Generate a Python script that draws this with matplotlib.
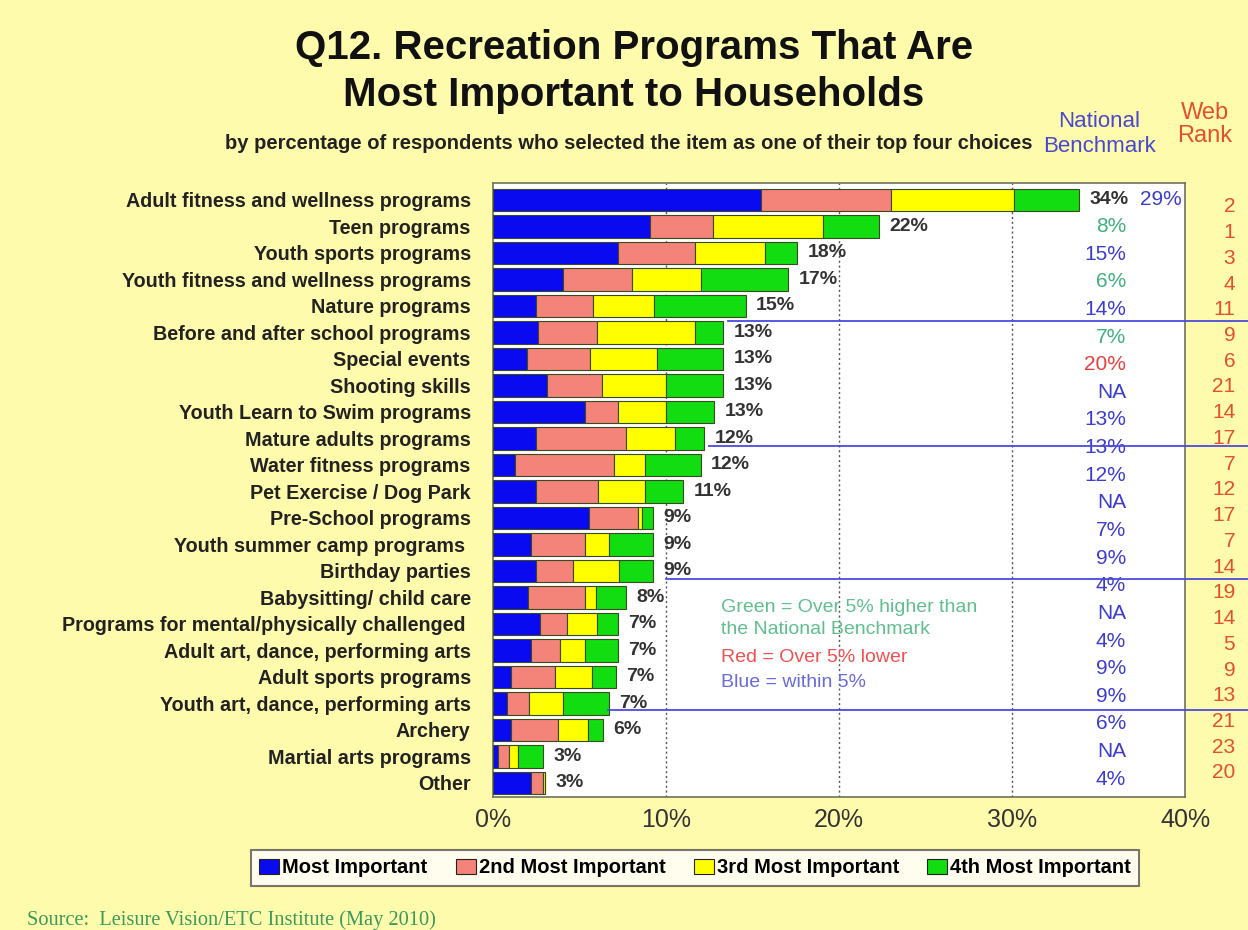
import matplotlib
matplotlib.use('Agg')
import matplotlib.pyplot as plt
from matplotlib.patches import Patch
import numpy as np

plt.rcParams['font.family'] = ['Liberation Sans', 'DejaVu Sans']

# 数据
categories = [
    'Adult fitness and wellness programs', 'Teen programs', 'Youth sports programs',
    'Youth fitness and wellness programs', 'Nature programs', 'Before and after school programs',
    'Special events', 'Shooting skills', 'Youth Learn to Swim programs', 'Mature adults programs',
    'Water fitness programs', 'Pet Exercise / Dog Park', 'Pre-School programs',
    'Youth summer camp programs ', 'Birthday parties', 'Babysitting/ child care',
    'Programs for mental/physically challenged ', 'Adult art, dance, performing arts',
    'Adult sports programs', 'Youth art, dance, performing arts', 'Archery',
    'Martial arts programs', 'Other',
]
most_important = [15.5, 9.1, 7.2, 4.05, 2.5, 2.6, 1.95, 3.1, 5.3, 2.5, 1.3, 2.5, 5.55,
                  2.2, 2.5, 2.0, 2.7, 2.2, 1.05, 0.8, 1.05, 0.3, 2.2]
second = [7.5, 3.6, 4.5, 4.0, 3.3, 3.4, 3.65, 3.2, 1.9, 5.2, 5.7, 3.6, 2.85,
          3.1, 2.1, 3.3, 1.6, 1.7, 2.55, 1.3, 2.7, 0.6, 0.7]
third = [7.1, 6.4, 4.0, 4.0, 3.5, 5.7, 3.9, 3.7, 2.8, 2.8, 1.8, 2.7, 0.2,
         1.4, 2.7, 0.65, 1.7, 1.4, 2.1, 1.95, 1.75, 0.55, 0.1]
fourth = [3.8, 3.2, 1.9, 5.0, 5.3, 1.6, 3.8, 3.3, 2.8, 1.7, 3.2, 2.2, 0.65,
          2.55, 1.95, 1.75, 1.2, 1.9, 1.4, 2.65, 0.85, 1.45, 0.0]
total_labels = ['34%', '22%', '18%', '17%', '15%', '13%', '13%', '13%', '13%', '12%',
                '12%', '11%', '9%', '9%', '9%', '8%', '7%', '7%', '7%', '7%', '6%', '3%', '3%']
benchmark_first = '29%'
benchmark = ['8%', '15%', '6%', '14%', '7%', '20%', 'NA', '13%', '13%', '12%', 'NA',
             '7%', '9%', '4%', 'NA', '4%', '9%', '9%', '6%', 'NA', '4%']
benchmark_tone = ['g', 'b', 'g', 'b', 'g', 'r', 'b', 'b', 'b', 'b', 'b',
                  'b', 'b', 'b', 'b', 'b', 'b', 'b', 'b', 'b', 'b']
web_rank = ['2', '1', '3', '4', '11', '9', '6', '21', '14', '17', '7', '12', '17', '7',
            '14', '19', '14', '5', '9', '13', '21', '23', '20']
series_names = ['Most Important', '2nd Most Important', '3rd Most Important', '4th Most Important']
x_ticks = [0, 10, 20, 30, 40]

# 颜色
bg = '#fffbad'
colors = ['#0a0af0', '#f4837a', '#ffff00', '#11dd11']
tone_colors = {'g': '#3fb07f', 'b': '#3c3cd0', 'r': '#e8403c'}
rank_color = '#e2502c'

fig = plt.figure(figsize=(12.48, 9.30), dpi=100, facecolor=bg)
ax = fig.add_axes([0.395, 0.143, 0.5545, 0.6602])
ax.set_facecolor('white')

y = np.arange(len(categories))
left = np.zeros(len(categories))
for vals, col in zip([most_important, second, third, fourth], colors):
    vals = np.array(vals)
    ax.barh(y, vals, left=left, height=0.86, color=col, edgecolor='#3a4a20', linewidth=0.8, zorder=3)
    left = left + vals

# 数值标签
for i, (tot, lab) in enumerate(zip(left, total_labels)):
    ax.text(tot + 0.6, i, lab, ha='left', va='center', fontsize=14, fontweight='bold',
            color='#333333', zorder=4)
ax.text(37.4, 0, benchmark_first, ha='left', va='center', fontsize=15, color=tone_colors['b'])

# 全国基准（列表略有错位）
for i, (val, tone) in enumerate(zip(benchmark, benchmark_tone)):
    ax.text(36.6, 1 + i * 1.043, val, ha='right', va='center', fontsize=15,
            color=tone_colors[tone], clip_on=False)

# 网络排名
for i, val in enumerate(web_rank):
    ax.text(42.9, 0.26 + i * 0.971, val, ha='right', va='center', fontsize=15,
            color=rank_color, clip_on=False)

# 分组线
for yy, x0 in zip([4.55, 9.3, 14.3, 19.25], [13.6, 12.5, 10.0, 6.65]):
    ax.plot([x0, 43.7], [yy, yy], color='#4a4ae0', linewidth=1.3, clip_on=False, zorder=5)

# 颜色说明
ax.text(13.2, 15.8, 'Green = Over 5% higher than\nthe National Benchmark', fontsize=14,
        color='#5fbf8f', va='center', linespacing=1.35)
ax.text(13.2, 17.25, 'Red = Over 5% lower', fontsize=14, color='#f05050', va='center')
ax.text(13.2, 18.2, 'Blue = within 5%', fontsize=14, color='#6a6adc', va='center')

ax.set_xlim(0, 40)
ax.set_ylim(22.53, -0.64)
ax.set_xticks(x_ticks)
ax.set_xticklabels([f'{t}%' for t in x_ticks], fontsize=18, color='#333333')
ax.set_yticks(y)
ax.set_yticklabels(categories, fontsize=14.2, fontweight='bold', color='#222222')
ax.tick_params(axis='both', length=0)
ax.tick_params(axis='y', pad=16)
ax.tick_params(axis='x', pad=8)
for xv in [10, 20, 30]:
    ax.axvline(xv, color='#555555', linestyle=(0, (1.5, 2)), linewidth=1.0, zorder=1)
for s in ax.spines.values():
    s.set_color('#707060')
    s.set_linewidth(1.2)

# 标题
fig.text(0.508, 0.9226, 'Q12. Recreation Programs That Are\nMost Important to Households',
         ha='center', va='center', fontsize=29, fontweight='bold', color='#111111',
         linespacing=1.3)
fig.text(0.504, 0.846, 'by percentage of respondents who selected the item as one of their top four choices',
         ha='center', va='center', fontsize=14.5, fontweight='bold', color='#222222')
fig.text(0.881, 0.856, 'National\nBenchmark', ha='center', va='center', fontsize=16,
         color='#4848d0', linespacing=1.2)
fig.text(0.9655, 0.866, 'Web\nRank', ha='center', va='center', fontsize=17,
         color=rank_color, linespacing=1.1)

# 图例
handles = [Patch(facecolor=c, edgecolor='#222222', linewidth=0.8) for c in colors]
leg = fig.legend(handles, series_names, loc='center', bbox_to_anchor=(0.557, 0.0667), ncol=4,
                 frameon=True, fancybox=False, edgecolor='#555555',
                 handlelength=1.0, handleheight=0.8, handletextpad=0.15, columnspacing=1.4,
                 borderpad=0.4, prop={'weight': 'bold', 'size': 14.5})
leg.get_frame().set_linewidth(1.5)

fig.text(0.022, 0.011, 'Source:  Leisure Vision/ETC Institute (May 2010)', fontsize=14.7,
         color='#3a9a5a', family=['Liberation Serif', 'DejaVu Serif'], va='center')

plt.savefig('out.png', dpi=100, facecolor=bg)
plt.close()
